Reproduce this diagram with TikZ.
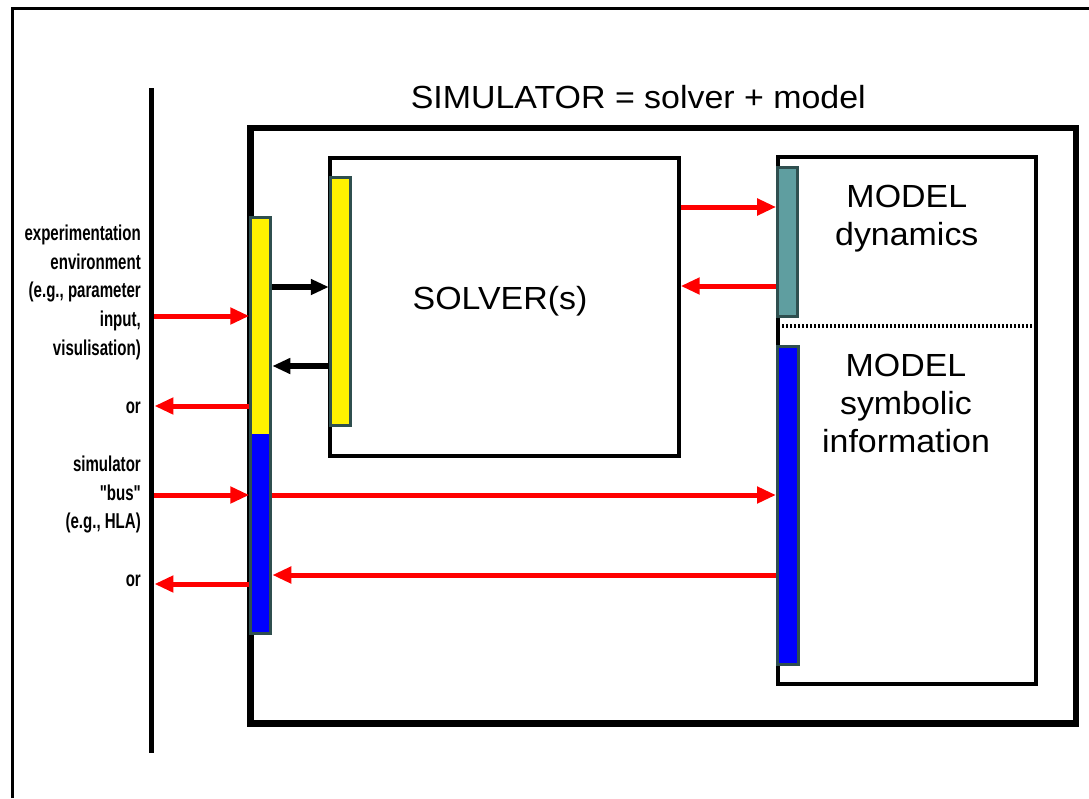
\documentclass[tikz,border=0pt]{standalone}
\usepackage{fontspec}
\setmainfont{Liberation Sans}[FakeStretch=1.06]
\newfontfamily\narrowfont[FakeStretch=0.70]{Liberation Sans}
\usetikzlibrary{arrows.meta}
\definecolor{barborder}{RGB}{47,79,79}
\definecolor{dyncol}{RGB}{95,158,160}
\tikzset{
  bar/.style={draw=barborder, line width=3pt, rectangle, inner sep=0pt},
  box/.style={draw=black, rectangle, inner sep=0pt},
  redarrow/.style={draw=red, line width=5pt, -{Triangle[length=19pt,width=16pt]}},
  blackarrow/.style={draw=black, line width=6pt, -{Triangle[length=18pt,width=15pt]}},
  bigtext/.style={inner sep=0pt, font=\fontsize{32}{38}\selectfont},
  sidetext/.style={inner sep=0pt, anchor=base east, font=\narrowfont\bfseries\fontsize{21.5}{28.6}\selectfont},
}
\begin{document}
\begin{tikzpicture}[x=1pt,y=-1pt]
\useasboundingbox (0,0) rectangle (1089,798);
% outer frame (cropped)
\draw[line width=2.8pt] (12.5,798) -- (12.5,8.5) -- (1089,8.5);
% environment line
\node[fill=black, inner sep=0pt, minimum width=5.5pt, minimum height=665pt] (env) at (151.5,420.5) {};
% boxes
\node[box, line width=6.5pt, minimum width=825.5pt, minimum height=595.5pt] (sim) at (663.25,425.75) {};
\node[box, line width=4pt, minimum width=348.7pt, minimum height=298pt] (solver) at (504.35,307) {};
\node[box, line width=4pt, minimum width=258pt, minimum height=527pt] (model) at (907,420.5) {};
\coordinate (dotL) at (782,326);
\coordinate (dotR) at (1034,326);
\draw[line width=3.5pt, dash pattern=on 2pt off 2pt] (dotL) -- (dotR);
% bars
\node[bar, fill=blue, minimum width=20pt, minimum height=416pt,
  path picture={\fill[yellow] (path picture bounding box.north west) rectangle ([yshift=-217pt]path picture bounding box.north east);}] (lbar) at (260.8,425.3) {};
\node[bar, fill=yellow, minimum width=20pt, minimum height=248pt] (sbar) at (340.3,301.2) {};
\node[bar, fill=dyncol, minimum width=20pt, minimum height=149pt] (mdbar) at (787.7,242) {};
\node[bar, fill=blue, minimum width=21pt, minimum height=318pt] (msbar) at (788,505.4) {};
% levels
\coordinate (y207) at (0,207);
\coordinate (y286) at (0,286);
\coordinate (y287) at (0,287);
\coordinate (y316) at (0,316);
\coordinate (y366) at (0,366);
\coordinate (y406) at (0,406);
\coordinate (y495) at (0,495);
\coordinate (y575) at (0,575);
\coordinate (y584) at (0,584);
% arrows
\draw[redarrow] (env.east |- y316) -- (lbar.west |- y316);
\draw[redarrow] (lbar.west |- y406) -- (env.east |- y406);
\draw[redarrow] (env.east |- y495) -- (lbar.west |- y495);
\draw[redarrow] (lbar.west |- y584) -- (env.east |- y584);
\draw[redarrow] (lbar.east |- y495) -- (msbar.west |- y495);
\draw[redarrow] (msbar.west |- y575) -- (lbar.east |- y575);
\draw[redarrow] (solver.east |- y207) -- (mdbar.west |- y207);
\draw[redarrow] (mdbar.west |- y286) -- (solver.east |- y286);
\draw[blackarrow] (lbar.east |- y287) -- (sbar.west |- y287);
\draw[blackarrow] (sbar.west |- y366) -- (lbar.east |- y366);
% texts
\node[bigtext, anchor=base] (title) at (638.3,108.3) {SIMULATOR = solver + model};
\node[bigtext, anchor=base] (soltext) at (500,309) {SOLVER(s)};
\node[bigtext, anchor=base] (mdtext) at (906.8,207.3) {\begin{tabular}[t]{@{}c@{}}MODEL\\dynamics\end{tabular}};
\node[bigtext, anchor=base] (mstext) at (906,376.7) {\begin{tabular}[t]{@{}c@{}}MODEL\\symbolic\\information\end{tabular}};
\node[sidetext] (envtext) at (141,240.7) {\begin{tabular}[t]{@{}r@{}}experimentation\\environment\\(e.g., parameter\\input,\\visulisation)\end{tabular}};
\node[sidetext] (or1) at (141,413.3) {or};
\node[sidetext] (bustext) at (141,471.7) {\begin{tabular}[t]{@{}r@{}}simulator\\\char"22 bus\char"22\\(e.g., HLA)\end{tabular}};
\node[sidetext] (or2) at (141,586.7) {or};
\end{tikzpicture}
\end{document}
